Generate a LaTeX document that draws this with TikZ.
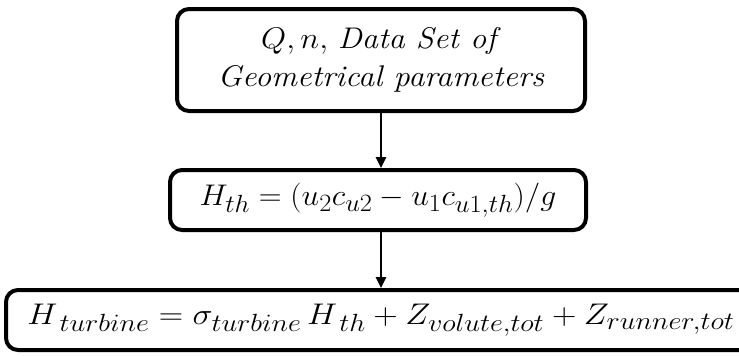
\documentclass[tikz,border=0pt]{standalone}
\usetikzlibrary{arrows.meta}
\begin{document}
\begin{tikzpicture}[x=1pt,y=-1pt,
  flowbox/.style={draw=black, line width=4pt, rounded corners=12pt, rectangle, inner sep=0pt, align=center,
    font=\fontsize{24.88}{31}\selectfont},
  flowarrow/.style={line width=2.5pt, -{Triangle[length=11pt,width=10pt]}}]
\useasboundingbox (0,0) rectangle (739,356);
\clip (0,0) rectangle (739,356);
\node[flowbox, minimum width=408pt, minimum height=102pt] (inp) at (381,60)
  {\scalebox{1.3}[1.2]{\begin{tabular}{@{}c@{}}$Q, n,$ \textit{Data Set of}\\ \textit{Geometrical parameters}\end{tabular}}};
\node[flowbox, minimum width=416pt, minimum height=60pt] (hth) at (378,200)
  {\scalebox{1.27}[1.2]{$H_{th} = (u_2 c_{u2} - u_1 c_{u1,th})/g$}};
\node[flowbox, minimum width=750pt, minimum height=60pt] (htur) at (381,320)
  {\scalebox{1.36}[1.2]{$H_{\,turbine} = \sigma_{turbine}\, H_{\,th} + Z_{volute,tot} + Z_{runner,tot}$}};
\draw[flowarrow] (inp.south) -- (hth.north -| inp.south);
\draw[flowarrow] (hth.south -| inp.south) -- (htur.north -| inp.south);
\end{tikzpicture}
\end{document}
